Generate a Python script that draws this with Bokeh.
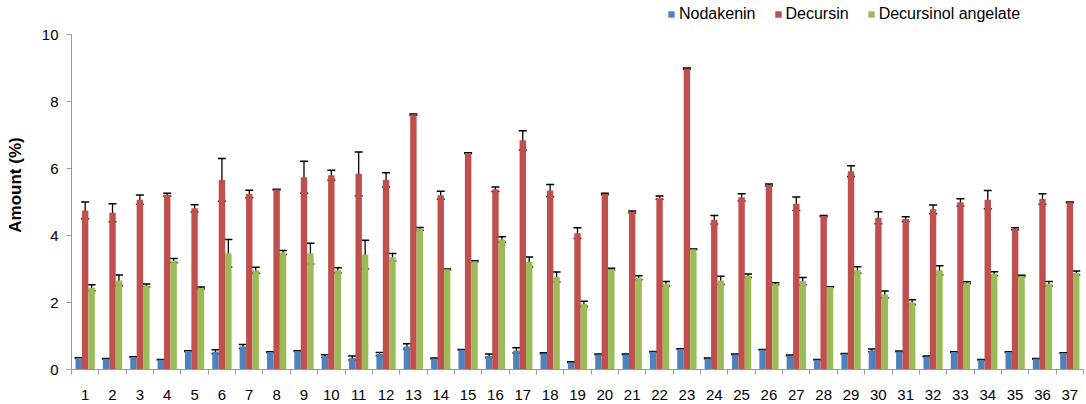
from bokeh.plotting import figure
from bokeh.models import (ColumnDataSource, Range1d, FixedTicker, Whisker, TeeHead,
                          Legend, LegendItem)
from bokeh.transform import dodge
from bokeh.embed import file_html
from bokeh.resources import INLINE

samples = list(range(1, 38))
nodakenin = [0.34, 0.32, 0.37, 0.29, 0.55, 0.53, 0.69, 0.52, 0.55, 0.40, 0.34, 0.46, 0.69,
             0.33, 0.59, 0.41, 0.57, 0.48, 0.22, 0.45, 0.45, 0.53, 0.61, 0.33, 0.45, 0.59,
             0.42, 0.29, 0.47, 0.57, 0.54, 0.39, 0.52, 0.29, 0.52, 0.32, 0.49]
nodakenin_err = [0.01, 0.01, 0.01, 0.01, 0.01, 0.06, 0.06, 0.01, 0.01, 0.04, 0.06, 0.05, 0.08,
                 0.01, 0.01, 0.05, 0.08, 0.02, 0.01, 0.01, 0.01, 0.01, 0.01, 0.01, 0.01, 0.01,
                 0.01, 0.01, 0.01, 0.04, 0.01, 0.01, 0.01, 0.01, 0.01, 0.01, 0.01]
decursin = [4.75, 4.68, 5.07, 5.22, 4.81, 5.66, 5.24, 5.37, 5.74, 5.80, 5.84, 5.66, 7.61,
            5.20, 6.46, 5.38, 6.84, 5.34, 4.07, 5.24, 4.70, 5.13, 8.98, 4.47, 5.14, 5.51,
            4.95, 4.58, 5.92, 4.53, 4.49, 4.78, 4.99, 5.07, 4.20, 5.09, 4.99]
decursin_err = [0.25, 0.27, 0.14, 0.04, 0.11, 0.64, 0.11, 0.01, 0.48, 0.15, 0.65, 0.21, 0.02,
                0.12, 0.01, 0.07, 0.29, 0.18, 0.16, 0.02, 0.03, 0.05, 0.02, 0.13, 0.11, 0.03,
                0.20, 0.02, 0.16, 0.18, 0.07, 0.13, 0.11, 0.27, 0.03, 0.16, 0.01]
angelate = [2.44, 2.66, 2.51, 3.25, 2.43, 3.47, 2.96, 3.49, 3.46, 2.96, 3.43, 3.35, 4.20,
            2.99, 3.23, 3.88, 3.21, 2.76, 1.96, 2.99, 2.74, 2.56, 3.59, 2.66, 2.80, 2.56,
            2.64, 2.46, 2.97, 2.24, 2.01, 2.96, 2.59, 2.86, 2.79, 2.56, 2.88]
angelate_err = [0.09, 0.16, 0.04, 0.06, 0.03, 0.41, 0.09, 0.06, 0.31, 0.08, 0.43, 0.11, 0.04,
                0.01, 0.02, 0.08, 0.15, 0.15, 0.08, 0.03, 0.06, 0.07, 0.01, 0.12, 0.05, 0.03,
                0.11, 0.01, 0.10, 0.10, 0.07, 0.14, 0.03, 0.06, 0.02, 0.07, 0.06]
series_names = ["Nodakenin", "Decursin", "Decursinol angelate"]
y_ticks = [0, 2, 4, 6, 8, 10]

colors = ["#4F81BD", "#C0504D", "#9BBB59"]
offsets = [-0.235, 0.0, 0.235]
FONT = "Liberation Sans"

# frame spans to the top of the canvas so the legend above the axis top is not clipped;
# the y axis itself is bounded to 0..10
p = figure(width=1086, height=404, output_backend="svg", toolbar_location=None,
           x_range=Range1d(0.5, 37.5), y_range=Range1d(0, 11.015),
           min_border_left=71, min_border_right=3, min_border_top=0, min_border_bottom=35)
p.outline_line_color = None
p.xgrid.visible = False
p.ygrid.visible = False
p.background_fill_color = "white"
p.border_fill_color = "white"

vals = [nodakenin, decursin, angelate]
errs = [nodakenin_err, decursin_err, angelate_err]
renderers = []
for name, v, e, c, off in zip(series_names, vals, errs, colors, offsets):
    src = ColumnDataSource(dict(x=samples, y=v,
                                up=[a + b for a, b in zip(v, e)],
                                lo=[a - b for a, b in zip(v, e)]))
    r = p.vbar(x=dodge("x", off, range=p.x_range), top="y", width=0.235, source=src,
               fill_color=c, line_color=None)
    renderers.append(r)
    w = Whisker(base=dodge("x", off, range=p.x_range), upper="up", lower="lo", source=src,
                line_color="black", line_width=1.3,
                upper_head=TeeHead(size=8, line_color="black", line_width=1.5),
                lower_head=TeeHead(size=8, line_color="black", line_width=1.5))
    p.add_layout(w)

# axes
ax_col = "#9A9A9A"
yax = p.yaxis[0]
yax.ticker = FixedTicker(ticks=y_ticks)
yax.bounds = (0, 10)
yax.axis_line_color = ax_col
yax.major_tick_line_color = ax_col
yax.major_tick_out = 5
yax.major_tick_in = 0
yax.minor_tick_line_color = None
yax.major_label_standoff = 8
yax.major_label_text_font = FONT
yax.major_label_text_font_size = "15px"
yax.major_label_text_color = "black"
yax.axis_label = "Amount (%)"
yax.axis_label_text_font = FONT
yax.axis_label_text_font_size = "17px"
yax.axis_label_text_font_style = "bold"
yax.axis_label_text_color = "black"
yax.axis_label_standoff = 14

xax = p.xaxis[0]
xax.ticker = FixedTicker(ticks=samples, minor_ticks=[s - 0.5 for s in samples] + [37.5])
xax.axis_line_color = ax_col
xax.major_tick_line_color = None
xax.major_tick_out = 0
xax.major_tick_in = 0
xax.minor_tick_line_color = ax_col
xax.minor_tick_out = 5
xax.minor_tick_in = 0
xax.major_label_standoff = 15
xax.major_label_text_font = FONT
xax.major_label_text_font_size = "15px"
xax.major_label_text_color = "black"

legend = Legend(items=[LegendItem(label=n, renderers=[r]) for n, r in zip(series_names, renderers)],
                orientation="horizontal", location=(596, 345),
                border_line_color=None, background_fill_alpha=0, padding=0, margin=0,
                glyph_width=8, glyph_height=8, label_standoff=4, spacing=18,
                label_text_font=FONT, label_text_font_size="16px", label_text_color="black",
                label_height=20)
p.add_layout(legend, "center")

open("out.html", "w").write(file_html(p, INLINE))
